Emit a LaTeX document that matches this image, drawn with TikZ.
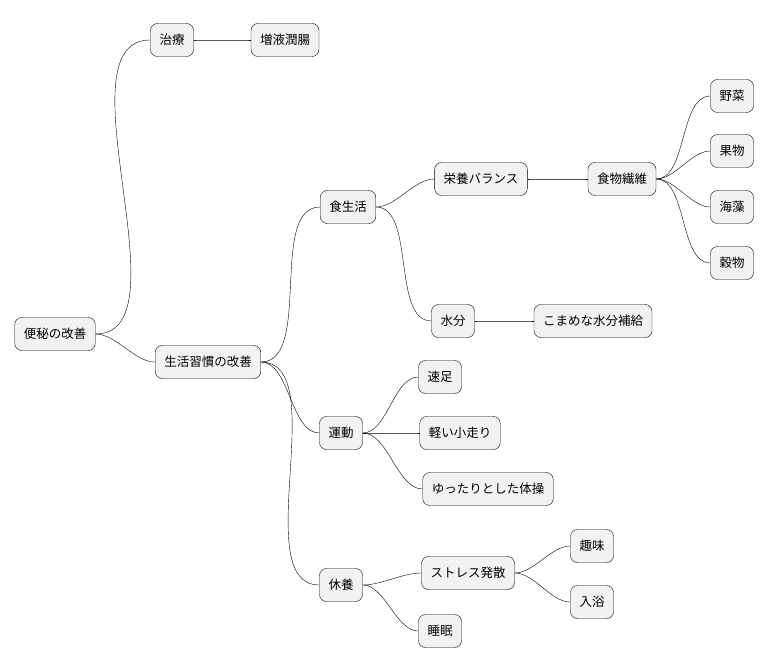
\documentclass[tikz,border=0pt]{standalone}
\usepackage{fontspec}
\setmainfont{Noto Sans CJK JP}
\usetikzlibrary{positioning}

\tikzset{
  topic/.style={draw, rounded corners=7pt, fill=gray!10, minimum height=33pt,
    inner xsep=9pt, font=\fontsize{12.5}{14}\selectfont},
  branch/.style={thin, out=0, in=180, looseness=0.8}
}

\begin{document}
\begin{tikzpicture}[x=1pt, y=-1pt]
   \useasboundingbox (0,0) rectangle (768,668);
   % Root and first level
   \node[topic] (root) at (55,334) {便秘の改善};
   \node[topic] (cure) at (172,40) {治療};
   \node[topic] (zoeki) at (285,40) {増液潤腸};
   \node[topic] (habit) at (208,362) {生活習慣の改善};

   % Diet
   \node[topic] (diet) at (348,207) {食生活};
   \node[topic] (balance) at (481,179) {栄養バランス};
   \node[topic] (fiber) at (622,179) {食物繊維};
   \node[topic] (veg) at (732,96) {野菜};
   \node[topic] (fruit) at (732,151) {果物};
   \node[topic] (seaweed) at (732,207) {海藻};
   \node[topic] (grain) at (732,263) {穀物};
   \node[topic] (water) at (453,321) {水分};
   \node[topic] (hydrate) at (593,321) {こまめな水分補給};

   % Exercise
   \node[topic] (sport) at (341,433) {運動};
   \node[topic] (walk) at (440,377) {速足};
   \node[topic] (jog) at (460,433) {軽い小走り};
   \node[topic] (gym) at (488,489) {ゆったりとした体操};

   % Rest
   \node[topic] (rest) at (341,585) {休養};
   \node[topic] (stress) at (468,573) {ストレス発散};
   \node[topic] (hobby) at (592,546) {趣味};
   \node[topic] (bath) at (592,602) {入浴};
   \node[topic] (sleep) at (440,631) {睡眠};

   % Connectors
   \foreach \a/\b in {root/cure, cure/zoeki, root/habit, habit/diet, diet/balance,
       balance/fiber, fiber/veg, fiber/fruit, fiber/seaweed, fiber/grain,
       diet/water, water/hydrate, habit/sport, sport/walk, sport/jog, sport/gym,
       habit/rest, rest/stress, stress/hobby, stress/bath, rest/sleep}
     \draw[branch] (\a.east) to (\b.west);
\end{tikzpicture}
\end{document}
